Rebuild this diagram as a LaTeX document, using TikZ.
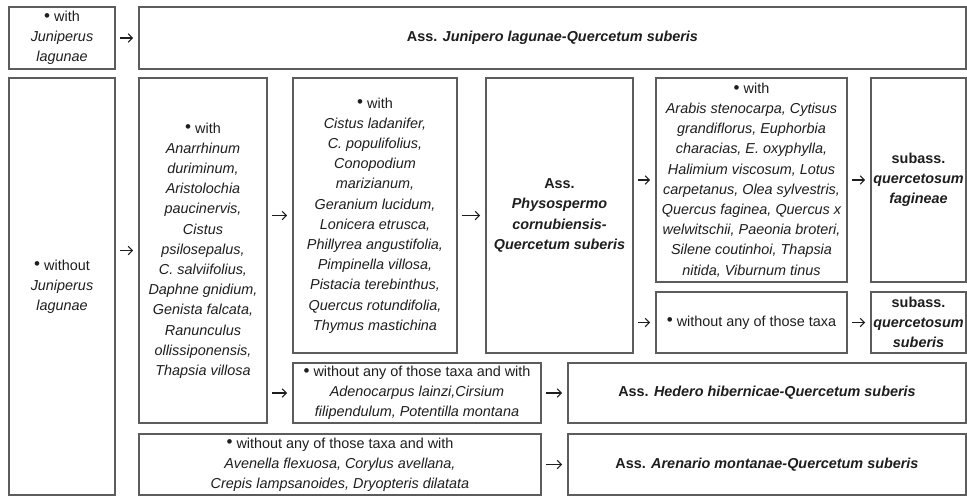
\documentclass[tikz,border=0pt]{standalone}
\usepackage{fontspec}
\setmainfont{Liberation Sans}
\usetikzlibrary{arrows.meta}
\definecolor{boxgray}{HTML}{5C5C5C}
\definecolor{txt}{HTML}{1E1E1E}
\newcommand\bul{\raisebox{0.05ex}{\fontsize{17}{17}\selectfont •}}
\tikzset{
  box/.style={draw=boxgray, line width=1.4pt, rectangle, inner sep=0pt, outer sep=0pt,
    align=center, text=txt, font=\fontsize{14.4}{20.2}\selectfont},
  arr/.style={draw=txt, line width=1.1pt, -{Straight Barb[length=4pt,width=8.5pt]},
    shorten <=5pt, shorten >=6pt}
}
\begin{document}
\begin{tikzpicture}[x=1pt,y=-1pt]
\useasboundingbox[fill=white] (0,0) rectangle (967,498);
% row 1
\node[box, minimum width=106, minimum height=62] (A) at (62,38) {\bul{} with\\ \textit{Juniperus}\\ \textit{lagunae}};
\node[box, minimum width=827, minimum height=62] (B) at (552.5,38) {\textbf{Ass. \textit{Junipero lagunae-Quercetum suberis}}};
% main rows
\node[box, minimum width=106, minimum height=417] (C) at (62,286.5) {\bul{} without\\ \textit{Juniperus}\\ \textit{lagunae}};
\node[box, minimum width=128, minimum height=345] (D) at (203,250.5) {\bul{} with\\ \itshape Anarrhinum\\ \itshape duriminum,\\ \itshape Aristolochia\\ \itshape paucinervis,\\ \itshape Cistus\\ \itshape psilosepalus,\\ \itshape C. salviifolius,\\ \itshape Daphne gnidium,\\ \itshape Genista falcata,\\ \itshape Ranunculus\\ \itshape ollissiponensis,\\ \itshape Thapsia villosa};
\node[box, minimum width=164, minimum height=275] (E) at (375,215.5) {\bul{} with\\ \itshape Cistus ladanifer,\\ \itshape C. populifolius,\\ \itshape Conopodium\\ \itshape marizianum,\\ \itshape Geranium lucidum,\\ \itshape Lonicera etrusca,\\ \itshape Phillyrea angustifolia,\\ \itshape Pimpinella villosa,\\ \itshape Pistacia terebinthus,\\ \itshape Quercus rotundifolia,\\ \itshape Thymus mastichina};
\node[box, minimum width=147, minimum height=275] (F) at (559.5,215.5) {\bfseries Ass.\\ \bfseries\itshape Physospermo\\ \bfseries\itshape cornubiensis-\\ \bfseries\itshape Quercetum suberis};
\node[box, minimum width=191, minimum height=204] (G) at (751.5,180) {\bul{} with\\ \itshape Arabis stenocarpa, Cytisus\\ \itshape grandiflorus, Euphorbia\\ \itshape characias, E. oxyphylla,\\ \itshape Halimium viscosum, Lotus\\ \itshape carpetanus, Olea sylvestris,\\ \itshape Quercus faginea, Quercus x\\ \itshape welwitschii, Paeonia broteri,\\ \itshape Silene coutinhoi, Thapsia\\ \itshape nitida, Viburnum tinus};
\node[box, minimum width=95, minimum height=204] (H) at (918.5,180) {\bfseries subass.\\ \bfseries\itshape quercetosum\\ \bfseries\itshape fagineae};
\node[box, minimum width=191, minimum height=61] (I) at (751.5,322.5) {\bul{} without any of those taxa};
\node[box, minimum width=95, minimum height=61] (J) at (918.5,322.5) {\bfseries subass.\\ \bfseries\itshape quercetosum\\ \bfseries\itshape suberis};
\node[box, minimum width=248, minimum height=60] (K) at (417,393) {\bul{} without any of those taxa and with\\ \itshape Adenocarpus lainzi,Cirsium\\ \itshape filipendulum, Potentilla montana};
\node[box, minimum width=398, minimum height=60] (L) at (767,393) {\textbf{Ass. \textit{Hedero hibernicae-Quercetum suberis}}};
\node[box, minimum width=402, minimum height=61] (M) at (340,464.5) {\bul{} without any of those taxa and with\\ \itshape Avenella flexuosa, Corylus avellana,\\ \itshape Crepis lampsanoides, Dryopteris dilatata};
\node[box, minimum width=398, minimum height=61] (N) at (767,464.5) {\textbf{Ass. \textit{Arenario montanae-Quercetum suberis}}};
% connectors
\draw[arr] (A.east) -- (B.west);
\draw[arr] (C.east |- D.west) -- (D.west);
\draw[arr] (D.east |- E.west) -- (E.west);
\draw[arr] (D.east |- K.west) -- (K.west);
\draw[arr] (E.east) -- (F.west);
\draw[arr] (F.east |- G.west) -- (G.west);
\draw[arr] (F.east |- I.west) -- (I.west);
\draw[arr] (G.east) -- (H.west);
\draw[arr] (I.east) -- (J.west);
\draw[arr] (K.east) -- (L.west);
\draw[arr] (M.east) -- (N.west);
\end{tikzpicture}
\end{document}
